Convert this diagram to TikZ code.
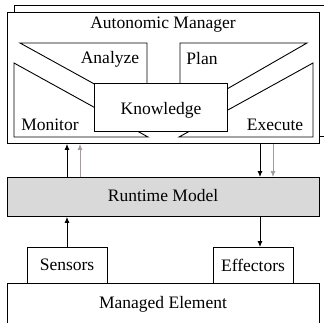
\documentclass[tikz,border=0pt]{standalone}
\usepackage{fontspec}
\setmainfont{Liberation Serif}
\newfontfamily\diagserif{Liberation Serif}
\usetikzlibrary{arrows.meta}
\definecolor{arrgray}{RGB}{165,155,155}
\definecolor{rmfill}{RGB}{217,217,217}
\begin{document}
\begin{tikzpicture}[x=1pt,y=-1pt, line width=0.9pt,
  box/.style={draw, fill=white, inner sep=0pt, anchor=north west},
  lbl/.style={font=\diagserif\fontsize{17.5}{20}\selectfont, inner sep=0pt},
  part/.style={draw, fill=white, line join=miter},
  arr/.style={-{Latex[length=6pt,width=5pt]}},
  garr/.style={arr, draw=arrgray}]
\useasboundingbox (0,0) rectangle (324,322);
\clip (0,0) rectangle (324,322);
% autonomic manager (stacked)
\node[box, minimum width=320pt, minimum height=131pt] (back) at (14,5) {};
\node[box, minimum width=312pt, minimum height=131pt] (am) at (7,12) {};
\node[lbl] (amt) at (163,25) {Autonomic Manager};
% MAPE parts
\draw[part] (20,43) -- (147,43) -- (147,113) -- cycle;
\draw[part] (307,43) -- (180,43) -- (180,116) -- cycle;
\draw[part] (14,63) -- (148,137) -- (14,137) -- cycle;
\draw[part] (313,63) -- (179,137) -- (313,137) -- cycle;
\node[lbl] (an) at (110,59) {Analyze};
\node[lbl] (pl) at (202,59) {Plan};
\node[lbl] (mo) at (50,125) {Monitor};
\node[lbl] (ex) at (275,125) {Execute};
\node[box, minimum width=133pt, minimum height=48pt] (kn) at (94,83) {};
\node[lbl] (knt) at (161,110) {Knowledge};
% runtime model
\node[box, fill=rmfill, minimum width=312pt, minimum height=39pt] (rm) at (7,177) {};
\node[lbl] (rmt) at (163,196) {Runtime Model};
% managed element
\node[box, minimum width=312pt, minimum height=60pt] (me) at (7,283) {};
\node[lbl] (met) at (163,304) {Managed Element};
\node[box, minimum width=80pt, minimum height=36pt] (se) at (27,247) {};
\node[lbl] (set) at (67,265) {Sensors};
\node[box, minimum width=80pt, minimum height=36pt] (ef) at (213,247) {};
\node[lbl] (eft) at (253,265) {Effectors};
% connector columns
\coordinate (c1) at (67,0);
\coordinate (c2) at (80,0);
\coordinate (c3) at (260,0);
\coordinate (c4) at (273,0);
\draw[arr] (rm.north -| c1) -- (am.south -| c1);
\draw[garr] (rm.north -| c2) -- (am.south -| c2);
\draw[arr] (am.south -| c3) -- (rm.north -| c3);
\draw[garr] (am.south -| c4) -- (rm.north -| c4);
\draw[arr] (se.north -| c1) -- (rm.south -| c1);
\draw[arr] (rm.south -| c3) -- (ef.north -| c3);
\end{tikzpicture}
\end{document}
